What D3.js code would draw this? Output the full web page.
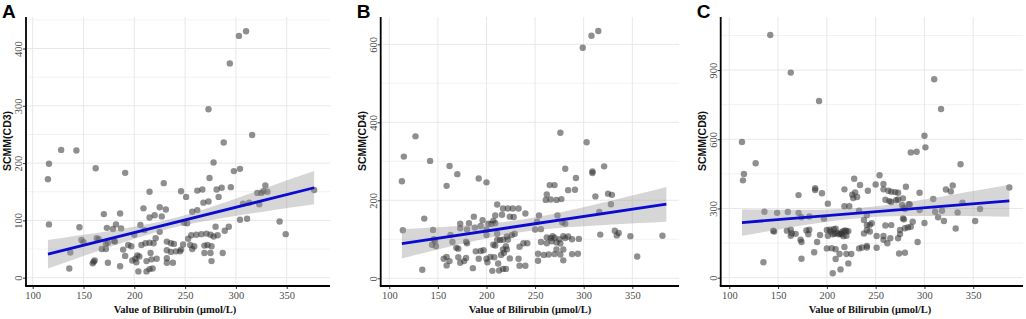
<!DOCTYPE html>
<html>
<head>
<meta charset="utf-8">
<script src="https://cdn.jsdelivr.net/npm/d3@7"></script>
<style>
body { margin: 0; background: #fff; }
</style>
</head>
<body>
<div id="chart"></div>
<script>
var width = 1026;
var height = 319;

// bilirubin axis ticks, shared by the three panels
var xTicks = [100, 150, 200, 250, 300, 350];
var xTitle = "Value of Bilirubin (\u03bcmol/L)";

// SCMM(CD3) against bilirubin
var cd3Points = [
    [310,430],[303,422],[294,374],[273,294],[316,249],[288,236],
    [128,223],[143,222],[116,199],[115,172],[162,191],[191,183],[229,165],[215,150],
    [278,201],[298,186],[304,190],[274,174],
    [246,151],[251,141],[262,152],[267,154],[281,154],[286,157],[295,158],[283,141],[268,131],[273,133],[257,115],[262,118],
    [321,148],[325,148],[327,151],[329,161],[331,150],[377,153],[307,129],[313,131],[323,128],[304,101],[311,103],[343,98],[349,76],
    [280,89],[293,89],[289,82],[287,43],[276,29],[269,43],[275,43],[269,56],[276,55],[272,57],
    [256,74],[261,75],[266,76],[271,77],[275,75],[278,72],[282,74],
    [253,68],[255,57],[259,55],[257,50],[249,96],[252,95],
    [232,48],[236,45],[241,46],[246,49],[248,58],
    [116,93],[209,121],[225,123],[231,119],[170,111],[186,112],[215,105],[220,109],[227,107],
    [146,88],[173,87],[179,85],[182,93],[187,86],[206,92],[210,83],[200,75],[225,80],
    [137,44],[148,66],[150,62],[165,67],[168,50],[172,59],[174,61],[180,64],[172,50],[189,49],[191,38],[194,57],[197,55],
    [136,16],[161,30],[159,25],[174,26],[186,20],[198,30],
    [201,33],[203,39],[205,37],[202,27],[204,11],[212,11],[215,15],[218,16],[212,29],[217,32],[222,33],
    [207,57],[211,60],[215,61],[219,60],[216,43],[221,69],[232,63],[236,60],[239,59],[232,34],[232,26],[238,26],[245,46],
    [163,69],[181,63],[160,28]
];

// SCMM(CD4) against bilirubin
var cd4Points = [
    [308,622],[315,634],[299,591],[276,373],[303,349],[127,364],[115,312],[142,301],
    [162,288],[170,267],[113,249],[159,237],[192,256],[200,246],
    [211,189],[217,179],[222,179],[227,179],[233,179],[216,163],[228,157],[224,158],[240,166],
    [136,153],[114,123],[145,124],[173,140],[182,141],[187,158],[173,128],[180,125],[188,130],
    [163,111],[146,100],[147,95],[165,93],[169,78],[171,76],[179,94],[180,90],[189,69],[194,70],[197,72],
    [159,55],[156,50],[171,54],[186,26],[134,22],[159,33],[162,44],[173,40],[177,44],[179,52],[144,86],[148,82],
    [194,134],[196,149],[200,125],[202,140],[207,147],[209,161],
    [321,287],[281,281],[309,274],[309,270],[292,257],[265,239],[270,239],[284,226],[291,227],[325,217],[329,214],[262,215],
    [261,201],[266,202],[272,201],[277,203],[312,210],[328,190],[316,170],[273,161],[254,161],
    [252,145],[250,125],[256,126],[278,143],[281,140],
    [332,122],[336,116],[334,110],[317,112],[348,108],[381,109],[355,56],[288,100],[295,101],[288,62],[294,63],[279,46],[272,74],[279,74],
    [262,105],[266,103],[268,108],[270,104],[275,100],[279,108],[281,103],[284,107],
    [256,93],[262,90],[267,95],[272,92],[276,89],[253,63],[259,60],[264,61],[270,62],[276,61],[253,45],
    [200,111],[205,139],[209,141],[211,114],[207,86],[209,84],[211,98],[214,98],[217,99],[221,107],[222,99],[226,111],[229,114],
    [220,82],[217,74],[221,74],[218,65],[192,50],[200,50],[201,41],[204,55],[208,54],[212,38],[206,19],[213,20],[217,24],[220,24],
    [215,60],[224,51],[233,50],[234,32],[240,32],[234,81],[238,90],[242,90]
];

// SCMM(CD8) against bilirubin
var cd8Points = [
    [142,1052],[163,889],[192,766],[310,860],[317,731],[113,588],[300,615],[301,565],[286,543],[292,546],
    [127,496],[115,450],[114,422],[337,492],[254,444],[228,429],[234,402],
    [188,388],[188,380],[195,366],[171,358],[218,383],[226,360],[229,370],[227,345],[231,350],[242,377],
    [250,404],[258,406],[281,394],[258,383],[263,377],[266,373],[270,371],[273,368],[295,368],[322,382],[327,374],[329,400],
    [260,338],[264,332],[266,328],[271,336],[273,339],[278,344],[284,319],[285,318],[277,315],[279,305],[280,298],
    [201,321],[218,310],[223,310],[136,286],[149,281],[160,285],[171,281],[174,262],[182,265],[197,256],[233,290],[238,250],
    [145,204],[146,200],[159,204],[163,208],[164,192],[168,190],[163,182],[179,205],[182,208],[173,165],[174,155],[181,188],[193,185],
    [190,155],[187,110],[174,82],[135,67],
    [200,207],[203,208],[204,200],[201,182],[206,188],[208,190],[210,195],[212,188],[214,190],[215,197],[217,203],[219,205],[220,200],[222,202],
    [215,188],[217,180],[220,182],[207,210],[209,212],
    [200,127],[205,128],[209,123],[213,103],[218,133],[220,103],[225,103],[209,81],[222,62],[214,36],[206,19],
    [233,127],[236,131],[241,131],[238,192],[241,207],[244,229],[241,271],
    [241,228],[246,236],[244,200],[241,138],[251,130],[251,181],[258,181],[258,164],[262,149],[265,171],[260,226],[266,228],
    [273,171],[275,207],[275,189],[274,105],[280,108],[280,214],[283,218],[286,221],[288,243],[293,155],[300,237],[295,293],
    [278,257],[279,253],[309,341],[311,286],[314,262],[318,290],[320,246],[332,213],[334,283],[339,325],[352,246],[357,298],[387,391]
];

// fitted lines and 95% bands
var cd3Fit = [[115, 41], [377, 157]];
var cd3BandX = [115, 150, 190, 235, 280, 330, 377];
var cd3BandLo = [16, 38, 62, 86, 102, 116, 128];
var cd3BandHi = [66, 75, 86, 102, 126, 157, 186];

var cd4Fit = [[113, 89], [385, 190]];
var cd4BandX = [113, 150, 190, 235, 280, 330, 385];
var cd4BandLo = [51, 74, 97, 118, 130, 138, 145];
var cd4BandHi = [126, 131, 138, 150, 171, 200, 234];

var cd8Fit = [[113, 239], [387, 333]];
var cd8BandX = [113, 150, 190, 235, 280, 330, 387];
var cd8BandLo = [182, 209, 236, 259, 267, 267, 264];
var cd8BandHi = [297, 295, 295, 303, 326, 361, 403];

var cd3YTicks = [0, 100, 200, 300, 400];
var cd4YTicks = [0, 200, 400, 600];
var cd8YTicks = [0, 300, 600, 900];

var panels = [
    { letter: "A", yTitle: "SCMM(CD3)", points: cd3Points, fit: cd3Fit,
      bandX: cd3BandX, bandLo: cd3BandLo, bandHi: cd3BandHi, yTicks: cd3YTicks,
      left: 26, right: 330, xDomain: [93.4, 392.6], yDomain: [-14.5, 455], titleX: 175 },
    { letter: "B", yTitle: "SCMM(CD4)", points: cd4Points, fit: cd4Fit,
      bandX: cd4BandX, bandLo: cd4BandLo, bandHi: cd4BandHi, yTicks: cd4YTicks,
      left: 380.7, right: 679, xDomain: [91.2, 398], yDomain: [-19.8, 670], titleX: 530 },
    { letter: "C", yTitle: "SCMM(CD8)", points: cd8Points, fit: cd8Fit,
      bandX: cd8BandX, bandLo: cd8BandLo, bandHi: cd8BandHi, yTicks: cd8YTicks,
      left: 720.7, right: 1023, xDomain: [91.2, 401], yDomain: [-36, 1130], titleX: 870 }
];

var plotTop = 17;
var plotBottom = 286;

var svg = d3.select("#chart")
            .append("svg")
            .attr("width", width)
            .attr("height", height)
            .style("display", "block");

svg.append("rect")
    .attr("width", width)
    .attr("height", height)
    .attr("fill", "white");

panels.forEach(function(p, i) {
    var x = d3.scaleLinear().domain(p.xDomain).range([p.left, p.right]);
    var y = d3.scaleLinear().domain(p.yDomain).range([plotBottom, plotTop]);
    var step = p.yTicks[1] - p.yTicks[0];
    var g = svg.append("g");

    var clipId = "clip" + i;
    svg.append("clipPath")
        .attr("id", clipId)
        .append("rect")
        .attr("x", p.left)
        .attr("y", plotTop)
        .attr("width", p.right - p.left)
        .attr("height", plotBottom - plotTop);

    // minor grid between the y ticks
    var minor = p.yTicks.map(function(t) { return t + step / 2; })
                        .filter(function(t) { return y(t) > plotTop; });
    g.selectAll(".minor")
        .data(minor)
        .enter().append("line")
        .attr("x1", p.left).attr("x2", p.right)
        .attr("y1", d => y(d)).attr("y2", d => y(d))
        .attr("stroke", "#f2f2f2")
        .attr("stroke-width", 1);

    g.selectAll(".ymajor")
        .data(p.yTicks)
        .enter().append("line")
        .attr("x1", p.left).attr("x2", p.right)
        .attr("y1", d => y(d)).attr("y2", d => y(d))
        .attr("stroke", "#e8e8e8")
        .attr("stroke-width", 1);

    g.selectAll(".xmajor")
        .data(xTicks)
        .enter().append("line")
        .attr("x1", d => x(d)).attr("x2", d => x(d))
        .attr("y1", plotTop).attr("y2", plotBottom)
        .attr("stroke", "#e8e8e8")
        .attr("stroke-width", 1);

    var plot = g.append("g").attr("clip-path", "url(#" + clipId + ")");

    plot.selectAll("circle")
        .data(p.points)
        .enter().append("circle")
        .attr("cx", d => x(d[0]))
        .attr("cy", d => y(d[1]))
        .attr("r", 3.2)
        .attr("fill", "#333333")
        .attr("fill-opacity", 0.55);

    var area = d3.area()
                 .x((d, j) => x(p.bandX[j]))
                 .y0((d, j) => y(p.bandLo[j]))
                 .y1((d, j) => y(p.bandHi[j]))
                 .curve(d3.curveNatural);
    plot.append("path")
        .datum(p.bandX)
        .attr("d", area)
        .attr("fill", "#999999")
        .attr("fill-opacity", 0.4);

    var lineGenerator = d3.line()
                          .x(d => x(d[0]))
                          .y(d => y(d[1]));
    plot.append("path")
        .datum(p.fit)
        .attr("d", lineGenerator)
        .attr("fill", "none")
        .attr("stroke", "#0a0ad2")
        .attr("stroke-width", 2.8);

    // axes
    var xAxis = g.append("g")
        .attr("transform", "translate(0," + plotBottom + ")")
        .call(d3.axisBottom(x).tickValues(xTicks).tickSize(3).tickPadding(3).tickSizeOuter(0));
    var yAxis = g.append("g")
        .attr("transform", "translate(" + p.left + ",0)")
        .call(d3.axisLeft(y).tickValues(p.yTicks).tickSize(3).tickPadding(1).tickSizeOuter(0));

    [xAxis, yAxis].forEach(function(a) {
        a.select(".domain").remove();
        a.selectAll(".tick line").attr("stroke", "#333333");
        a.selectAll("text")
            .attr("fill", "#4d4d4d")
            .style("font-family", "'Liberation Serif', 'Times New Roman', serif")
            .style("font-size", "10.5px");
    });
    yAxis.selectAll("text")
        .attr("x", 0)
        .attr("dy", 0)
        .attr("text-anchor", "middle")
        .attr("transform", "translate(-4,0) rotate(-90)");

    g.append("line")
        .attr("x1", p.left).attr("x2", p.left)
        .attr("y1", plotTop).attr("y2", plotBottom)
        .attr("stroke", "black")
        .attr("stroke-width", 1.8);
    g.append("line")
        .attr("x1", p.left - 0.9).attr("x2", p.right)
        .attr("y1", plotBottom).attr("y2", plotBottom)
        .attr("stroke", "black")
        .attr("stroke-width", 1.8);

    // titles
    g.append("text")
        .attr("x", p.titleX)
        .attr("y", 313)
        .attr("text-anchor", "middle")
        .style("font-family", "'Liberation Serif', 'Times New Roman', serif")
        .style("font-weight", "bold")
        .style("font-size", "10.5px")
        .attr("fill", "#111")
        .text(xTitle);

    g.append("text")
        .attr("transform", "translate(" + (p.left - 15) + ",141) rotate(-90)")
        .attr("text-anchor", "middle")
        .style("font-family", "'Liberation Sans', Arial, sans-serif")
        .style("font-weight", "bold")
        .style("font-size", "10.5px")
        .attr("fill", "#111")
        .text(p.yTitle);

    g.append("text")
        .attr("x", p.left - 24)
        .attr("y", 18)
        .style("font-family", "'Liberation Sans', Arial, sans-serif")
        .style("font-weight", "bold")
        .style("font-size", "19px")
        .attr("fill", "black")
        .text(p.letter);
});
</script>
</body>
</html>
